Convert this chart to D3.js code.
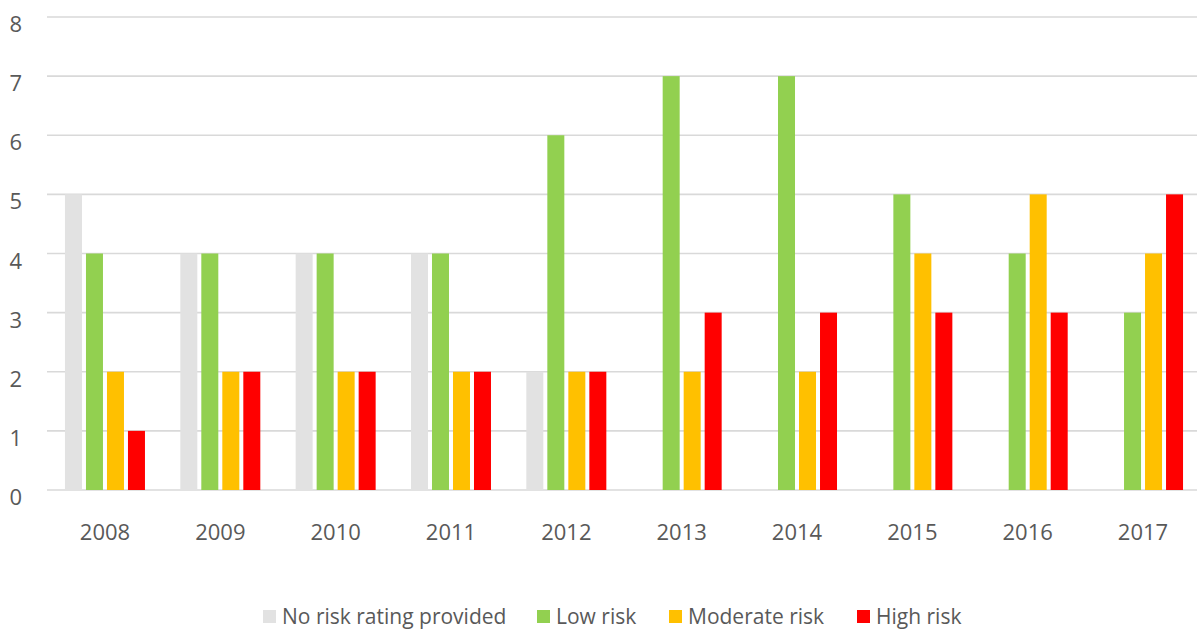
<!DOCTYPE html>
<html>
<head>
<meta charset="utf-8">
<script src="https://cdnjs.cloudflare.com/ajax/libs/d3/7.8.5/d3.min.js"></script>
<style>
  html, body { margin: 0; padding: 0; background: #fff; }
  svg { display: block; }
  text { font-family: "Open Sans", sans-serif; fill: #595959; }
</style>
</head>
<body>
<svg id="chart" width="1197" height="631"></svg>
<script>
// Number of projects per risk rating, by year
const years = ["2008", "2009", "2010", "2011", "2012", "2013", "2014", "2015", "2016", "2017"];
const seriesNames = ["No risk rating provided", "Low risk", "Moderate risk", "High risk"];
const noRating = [5, 4, 4, 4, 2, 0, 0, 0, 0, 0];
const lowRisk = [4, 4, 4, 4, 6, 7, 7, 5, 4, 3];
const moderateRisk = [2, 2, 2, 2, 2, 2, 2, 4, 5, 4];
const highRisk = [1, 2, 2, 2, 2, 3, 3, 3, 3, 5];
const yTicks = [0, 1, 2, 3, 4, 5, 6, 7, 8];
const colors = ["#E2E2E2", "#92D050", "#FFC000", "#FF0000"];

const seriesValues = [noRating, lowRisk, moderateRisk, highRisk];

const svg = d3.select("#chart");
const W = 1197;

const x0 = d3.scaleBand().domain(years).range([47.3, 1200.7]).padding(0);
const groupWidth = 84;
const x1 = d3.scaleBand().domain(seriesNames).range([0, groupWidth])
  .paddingInner(4 / 21).paddingOuter(2 / 21);
const y = d3.scaleLinear().domain([0, 8]).range([490, 17]);

// Horizontal gridlines
svg.append("g").selectAll("line").data(yTicks).join("line")
  .attr("x1", 47).attr("x2", W)
  .attr("y1", d => y(d)).attr("y2", d => y(d))
  .attr("stroke", "#d9d9d9").attr("stroke-width", 1.6);

// Y tick labels
svg.append("g").selectAll("text").data(yTicks).join("text")
  .attr("x", 22).attr("y", d => y(d) + 6)
  .attr("text-anchor", "end").attr("dominant-baseline", "central")
  .style("font-size", "22px")
  .text(d => d);

// Bars
const groups = svg.append("g").selectAll("g").data(years).join("g")
  .attr("transform", d => `translate(${x0(d) + x0.bandwidth() / 2 - groupWidth / 2},0)`);

groups.selectAll("rect")
  .data((yr, i) => seriesNames.map((s, j) => ({ s, j, v: seriesValues[j][i] })))
  .join("rect")
  .attr("x", d => x1(d.s))
  .attr("width", x1.bandwidth())
  .attr("y", d => y(d.v))
  .attr("height", d => y(0) - y(d.v))
  .attr("fill", d => colors[d.j]);

// X labels
svg.append("g").selectAll("text").data(years).join("text")
  .attr("x", d => x0(d) + x0.bandwidth() / 2)
  .attr("y", 531)
  .attr("text-anchor", "middle").attr("dominant-baseline", "central")
  .style("font-size", "22px")
  .text(d => d);

// Legend
const legendX = [263, 537, 669, 857];
const legend = svg.append("g").selectAll("g").data(seriesNames).join("g")
  .attr("transform", (d, i) => `translate(${legendX[i]},0)`);
legend.append("rect")
  .attr("x", 0).attr("y", 610).attr("width", 13).attr("height", 13)
  .attr("fill", (d, i) => colors[i]);
legend.append("text")
  .attr("x", 19).attr("y", 616)
  .attr("dominant-baseline", "central")
  .style("font-size", "21px")
  .text(d => d);
</script>
</body>
</html>
